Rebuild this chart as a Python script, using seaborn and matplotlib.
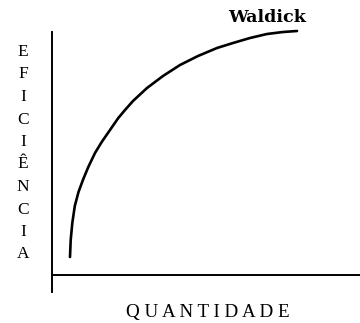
import matplotlib
matplotlib.use("Agg")
import matplotlib.pyplot as plt
import seaborn as sns
import pandas as pd

# curve (quantity, efficiency)
quantidade = [18, 18.7, 20.3, 22.8, 26.5, 31.3, 36.3, 43, 49.7, 58, 66.3, 73,
              81, 95, 111, 128, 146, 165, 181, 198, 215, 231, 245]
eficiencia = [18, 35, 52, 69, 83, 96, 108, 122, 133, 145, 157, 165,
              174, 187, 199, 210, 219, 227, 232, 237, 241, 243, 244]
curve_label = "Waldick"
y_title = "EFICIÊNCIA"
x_title = "QUANTIDADE"

df = pd.DataFrame({"quantidade": quantidade, "eficiencia": eficiencia})

sns.set_style("white")
plt.rcParams["font.family"] = ["Liberation Serif", "DejaVu Serif"]
plt.rcParams["text.color"] = "black"

W, H = 360, 323
fig = plt.figure(figsize=(W / 100, H / 100), dpi=100)
ax = fig.add_axes([52 / W, 31 / H, (W - 52) / W, (292 - 32) / H])

sns.lineplot(data=df, x="quantidade", y="eficiencia", ax=ax, color="black",
             linewidth=1.9, sort=False, clip_on=False,
             solid_joinstyle="round", solid_capstyle="round")

ax.set_xlim(0, 308)
ax.set_ylim(-17, 243)
ax.spines["top"].set_visible(False)
ax.spines["right"].set_visible(False)
ax.spines["bottom"].set_position(("data", 0))
for s in ["left", "bottom"]:
    ax.spines[s].set_color("black")
    ax.spines[s].set_linewidth(1.4)
ax.set_xticks([])
ax.set_yticks([])
ax.set_xlabel("")
ax.set_ylabel("")

# curve name
fig.text(228 / W, 1 - 18 / H, curve_label, fontsize=12.6, fontweight="bold",
         family="DejaVu Serif", ha="left", va="center", color="black")

# vertical stacked y title
for i, ch in enumerate(y_title):
    fig.text(23 / W, 1 - (52 + i * 22.5) / H, ch, fontsize=12.5,
             ha="center", va="center", color="black")

# x title with letter spacing
fig.text(208 / W, 1 - 312 / H, " ".join(x_title), fontsize=13.7,
         ha="center", va="center", color="black")

fig.savefig("out.png", dpi=100)
